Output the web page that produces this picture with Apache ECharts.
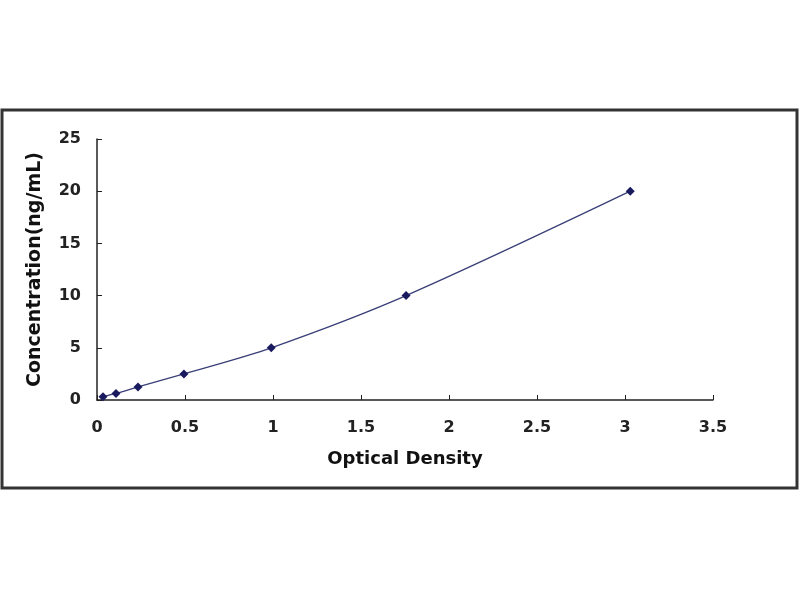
<!DOCTYPE html>
<html>
<head>
<meta charset="utf-8">
<script src="https://cdn.jsdelivr.net/npm/echarts@6/dist/echarts.min.js"></script>
<style>
  html, body { margin: 0; padding: 0; background: #fff; }
  #main { width: 800px; height: 600px; }
</style>
</head>
<body>
<div id="main"></div>
<script>
// standard curve: optical density vs concentration
var odValues = [0.034, 0.108, 0.233, 0.494, 0.99, 1.756, 3.03];
var concValues = [0.312, 0.625, 1.25, 2.5, 5, 10, 20];

var points = odValues.map(function (v, i) { return [v, concValues[i]]; });

var myChart = echarts.init(document.getElementById('main'));
var option = {
    backgroundColor: '#fff',
    animation: false,
    grid: { left: 97, right: 87, top: 139, bottom: 200 },
    graphic: [{
        type: 'rect',
        shape: { x: 2, y: 110, width: 795, height: 378 },
        style: { fill: 'none', stroke: '#333', lineWidth: 3 }
    }],
    xAxis: {
        type: 'value',
        min: 0, max: 3.5, interval: 0.5,
        name: 'Optical Density',
        nameLocation: 'middle',
        nameGap: 50,
        nameTextStyle: { fontFamily: 'DejaVu Sans', fontWeight: 'bold', fontSize: 18, color: '#111' },
        axisLine: { lineStyle: { color: '#222', width: 1.5 } },
        axisTick: { inside: true, length: 5, lineStyle: { color: '#222' } },
        axisLabel: { fontFamily: 'DejaVu Sans', fontWeight: 'bold', fontSize: 16, color: '#222', margin: 20 },
        splitLine: { show: false }
    },
    yAxis: {
        type: 'value',
        min: 0, max: 25, interval: 5,
        name: 'Concentration(ng/mL)',
        nameLocation: 'middle',
        nameGap: 52,
        nameTextStyle: { fontFamily: 'DejaVu Sans', fontWeight: 'bold', fontSize: 19, color: '#111' },
        axisLine: { show: true, lineStyle: { color: '#222', width: 1.5 } },
        axisTick: { show: true, inside: true, length: 5, lineStyle: { color: '#222' } },
        axisLabel: { fontFamily: 'DejaVu Sans', fontWeight: 'bold', fontSize: 16, color: '#222', margin: 16 },
        splitLine: { show: false }
    },
    series: [{
        type: 'line',
        data: points,
        smooth: 0.3,
        symbol: 'diamond',
        symbolSize: 9,
        itemStyle: { color: '#1a1a5e' },
        lineStyle: { color: '#3a3f78', width: 1.3 }
    }]
};
myChart.setOption(option);
</script>
</body>
</html>
